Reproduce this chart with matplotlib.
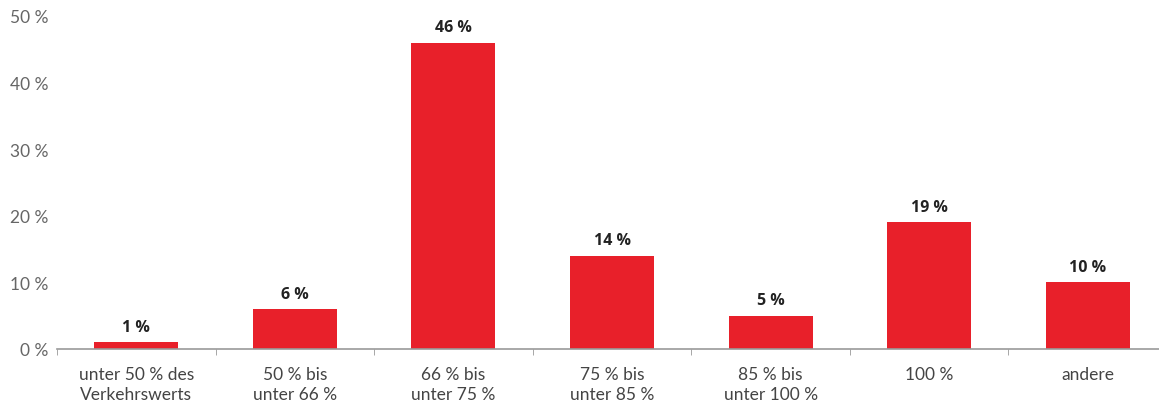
import matplotlib
matplotlib.use("Agg")
import matplotlib.pyplot as plt
import numpy as np

categories = ["unter 50 % des\nVerkehrswerts", "50 % bis\nunter 66 %", "66 % bis\nunter 75 %",
              "75 % bis\nunter 85 %", "85 % bis\nunter 100 %", "100 %", "andere"]
values = [1, 6, 46, 14, 5, 19, 10]
yticks = [0, 10, 20, 30, 40, 50]

red = "#e8202a"
grey = "#666666"

fig = plt.figure(figsize=(11.59, 4.10), dpi=100)
ax = fig.add_axes([57 / 1159, 60 / 410, 1110 / 1159, 333 / 410])

x = np.arange(len(values))
ax.bar(x, values, width=0.53, color=red)
for xi, v in zip(x, values):
    ax.text(xi, v + 1.1, f"{v} %", ha="center", va="bottom", fontsize=11.5,
            fontweight="bold", color="#222222", family="Open Sans")

ax.set_xlim(-0.5, len(values) - 0.5)
ax.set_ylim(0, 50)
ax.set_yticks(yticks)
ax.set_yticklabels([f"{t} %" for t in yticks], fontsize=12.5, color=grey, family="Lato")
ax.set_xticks(x)
ax.set_xticklabels(categories, fontsize=12.5, color="#444444", family="Lato",
                   linespacing=1.3)
ax.tick_params(axis="x", length=0, pad=12)
ax.tick_params(axis="y", length=0, pad=6)
ax.set_xticks(np.arange(len(values) + 1) - 0.5, minor=True)
ax.tick_params(axis="x", which="minor", length=4, color="#999999")

for s in ["top", "right", "left"]:
    ax.spines[s].set_visible(False)
ax.spines["bottom"].set_color("#999999")
ax.spines["bottom"].set_linewidth(1.2)

fig.savefig("out.png", dpi=100)
